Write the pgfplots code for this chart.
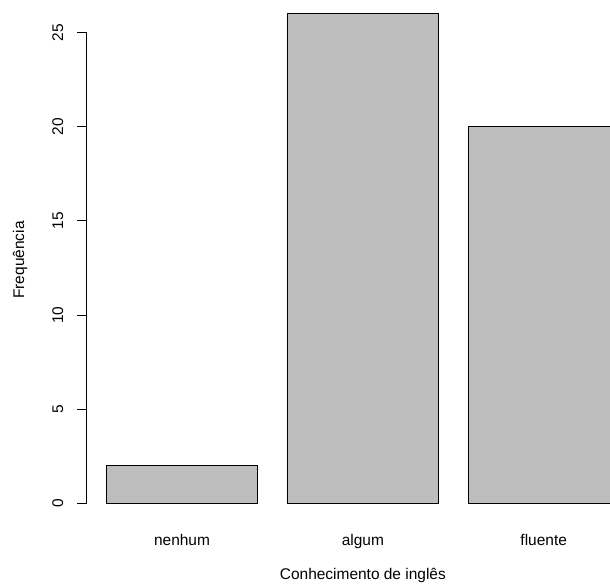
\documentclass[border=0pt]{standalone}
\usepackage{fontspec}
\setmainfont{Liberation Sans}
\usepackage{pgfplots}
\pgfplotsset{compat=1.18}
\definecolor{barfill}{RGB}{190,190,190}
\newcommand{\lblfont}{\fontsize{11.6}{14}\selectfont}
\begin{document}
\begin{tikzpicture}
\begin{axis}[
  x=113.025pt, y=14.1375pt,
  xmin=0.064, xmax=3.736, ymin=0, ymax=25,
  clip=false,
  axis y line*=left, axis x line*=bottom,
  axis line style={-, line width=0.75pt, black},
  x axis line style={draw=none},
  xtick={0.7,1.9,3.1},
  xticklabels={nenhum,algum,fluente},
  xtick style={draw=none},
  ytick={0,5,10,15,20,25},
  ytick style={black, line width=0.75pt},
  tick align=outside,
  major tick length=6.75pt,
  /pgf/number format/assume math mode=true,
  every tick label/.append style={font=\lblfont},
  xticklabel style={anchor=base, inner sep=0pt, yshift=-24.9pt},
  yticklabel style={rotate=90, anchor=base, inner sep=0pt, yshift=10.5pt},
  xlabel={Conhecimento de inglês},
  ylabel={Frequência},
  label style={font=\lblfont},
  xlabel style={at={(axis description cs:0.5,-0.1619)}, anchor=base, inner sep=0pt},
  ylabel style={at={(axis description cs:-0.1124,0.517)}, anchor=base, inner sep=0pt},
]
\addplot[ybar, bar width=1, bar shift=0pt, draw=black, line width=0.75pt, fill=barfill]
  coordinates {(0.7,2) (1.9,26) (3.1,20)};
\coordinate (bl) at (axis cs:-0.508,-4.26);
\coordinate (tr) at (axis cs:3.540,26.72);
\end{axis}
\pgfresetboundingbox
\path[use as bounding box] (bl) rectangle (tr);
\end{tikzpicture}
\end{document}
